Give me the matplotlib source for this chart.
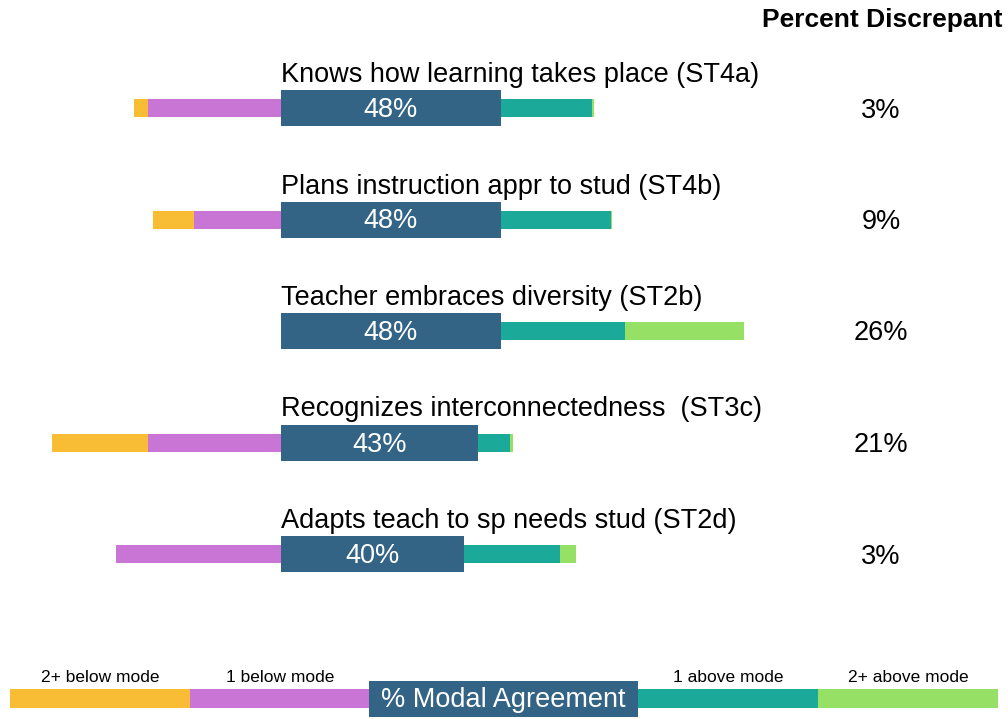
import matplotlib
matplotlib.use("Agg")
import matplotlib.pyplot as plt

plt.rcParams['font.family'] = ['Liberation Sans', 'DejaVu Sans']

# ---- data ----
items = [
    "Knows how learning takes place (ST4a)",
    "Plans instruction appr to stud (ST4b)",
    "Teacher embraces diversity (ST2b)",
    "Recognizes interconnectedness  (ST3c)",
    "Adapts teach to sp needs stud (ST2d)",
]
below2 = [3, 9, 0, 21, 0]
below1 = [29, 19, 0, 29, 36]
modal = [48, 48, 48, 43, 40]
above1 = [20, 24, 27, 7, 21]
above2 = [0.3, 0.2, 26, 0.6, 3.5]
discrepant = [3, 9, 26, 21, 3]

legend_labels = ["2+ below mode", "1 below mode", "1 above mode", "2+ above mode"]

C_B2 = "#F8BD34"
C_B1 = "#C875D5"
C_MOD = "#336485"
C_A1 = "#1BA99A"
C_A2 = "#97E066"

W, H = 1008, 719
PX = 4.58        # pixels per percent
X0 = 281         # pixel where modal bar starts

fig = plt.figure(figsize=(W / 100, H / 100), dpi=100)
ax = fig.add_axes([0, 0, 1, 1])
ax.set_xlim(-X0 / PX, (W - X0) / PX)
ax.set_ylim(H, 0)
ax.axis("off")

thin, thick = 18, 36
for i, name in enumerate(items):
    y = 108 + 111.5 * i
    # left side, stacked going left from 0
    ax.barh(y, -below1[i], left=0, height=thin, color=C_B1, linewidth=0)
    ax.barh(y, -below2[i], left=-below1[i], height=thin, color=C_B2, linewidth=0)
    # right side
    ax.barh(y, above1[i], left=modal[i], height=thin, color=C_A1, linewidth=0)
    ax.barh(y, above2[i], left=modal[i] + above1[i], height=thin, color=C_A2, linewidth=0)
    ax.barh(y, modal[i], left=0, height=thick, color=C_MOD, linewidth=0)
    ax.text(modal[i] / 2, y + 2, f"{modal[i]}%", color="white", fontsize=19.5,
            ha="center", va="center")
    ax.text(0, y - 33, name, fontsize=19.5, ha="left", va="center")
    ax.text(131, y + 2.5, f"{discrepant[i]}%", fontsize=19.5, ha="center", va="center")

ax.text((1003 - X0) / PX, 20, "Percent Discrepant", fontsize=19, fontweight="bold",
        ha="right", va="center")

# ---- legend strip along the bottom, in pixel units ----
lax = fig.add_axes([0, 0, 1, 1])
lax.set_xlim(0, W)
lax.set_ylim(H, 0)
lax.axis("off")
lax.patch.set_alpha(0)

seg_left = [10, 190, 638, 818]
seg_cols = [C_B2, C_B1, C_A1, C_A2]
for lbl, l, c in zip(legend_labels, seg_left, seg_cols):
    lax.barh(698.5, 180, left=l, height=19, color=c, linewidth=0)
    lax.text(l + 90, 678, lbl, fontsize=12.5, ha="center", va="center")
lax.barh(699, 269, left=369, height=36, color=C_MOD, linewidth=0)
lax.text(503.5, 700, "% Modal Agreement", fontsize=19.5, color="white",
         ha="center", va="center")

fig.savefig("out.png", dpi=100)
